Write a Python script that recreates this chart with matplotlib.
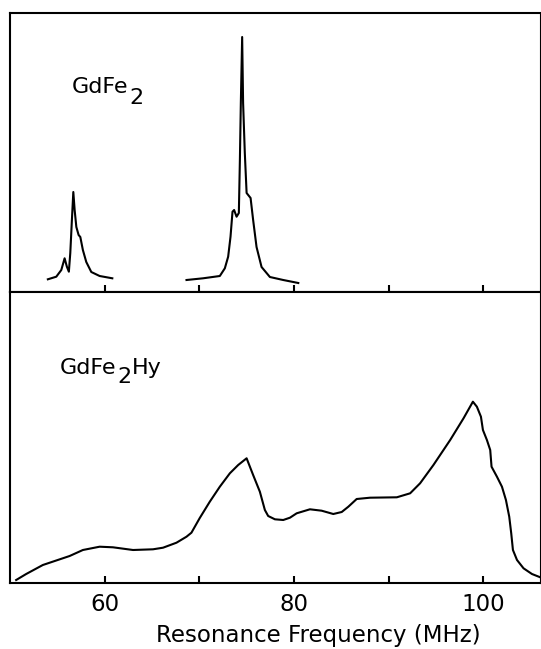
import matplotlib
matplotlib.use("Agg")
import matplotlib.pyplot as plt

# --- data (intensity in arbitrary units) ---
gd_peak1_freq = [54.0, 54.89, 55.42, 55.77, 56.01, 56.22, 56.37, 56.54, 56.69, 56.83,
                 57.01, 57.25, 57.43, 57.70, 58.06, 58.59, 59.47, 60.81]
gd_peak1_int = [12.7, 15.3, 22, 33.7, 25.3, 20.3, 39, 72, 100, 82,
                65, 57, 55, 42, 30, 20, 16, 13.7]

gd_peak2_freq = [68.65, 70.40, 72.17, 72.70, 73.05, 73.30, 73.51, 73.68, 73.94, 74.18,
                 74.29, 74.39, 74.53, 74.63, 74.81, 75.0, 75.42, 75.69, 76.05, 76.58,
                 77.46, 78.87, 80.46]
gd_peak2_int = [12, 13.7, 16, 23.7, 35.3, 55.3, 80.3, 82, 75.3, 79,
                132, 189, 255, 189, 139, 99, 94, 72, 45, 25,
                15, 12, 9]

hy_freq = [50.65, 51.71, 53.47, 56.30, 57.70, 59.47, 60.88, 63.0, 65.11, 66.17,
           67.59, 68.65, 69.17, 70.05, 71.11, 72.17, 73.23, 74.11, 75.0, 75.69,
           76.40, 76.93, 77.28, 77.99, 78.87, 79.58, 80.29, 81.69, 82.93, 84.16,
           85.05, 85.75, 86.63, 88.04, 90.87, 92.28, 93.33, 94.74, 96.51, 97.92,
           98.91, 99.33, 99.76, 99.97, 100.39, 100.74, 100.88, 101.45, 101.98, 102.40,
           102.75, 102.96, 103.14, 103.57, 104.26, 105.15, 106.03]
hy_int = [3, 9, 18, 27, 33, 36.3, 35.7, 33, 33.7, 35.3,
          40.3, 46.3, 50.3, 65, 81.3, 96.3, 109.7, 118, 124.7, 108,
          91.3, 73, 67, 63.7, 63, 65.3, 69.7, 73.7, 72.3, 69,
          71, 76.3, 84, 85.3, 85.7, 89.7, 99.7, 118, 143, 164.7,
          181.3, 176.3, 166.3, 153, 143, 133, 116.3, 106.3, 96.3, 83,
          66.3, 49.7, 33, 23, 14.7, 9, 5.7]

major_ticks = [60, 80, 100]
minor_ticks = [70, 90]
x_label = "Resonance Frequency (MHz)"
label_top = [("GdFe", 0), ("2", 1)]          # (text, is_subscript)
label_bottom = [("GdFe", 0), ("2", 1), ("Hy", 0)]

W, H = 541, 649
fig = plt.figure(figsize=(W / 100, H / 100), dpi=100)

left = 10 / W
width = 530 / W
ax_top = fig.add_axes([left, 1 - 292 / H, width, 279 / H])
ax_bot = fig.add_axes([left, 1 - 583 / H, width, 291 / H])

lw = 1.5
for ax in (ax_top, ax_bot):
    ax.set_xlim(50, 106)
    ax.set_yticks([])
    ax.set_xticks(major_ticks)
    ax.set_xticks(minor_ticks, minor=True)
    ax.tick_params(axis="x", which="both", direction="in", length=5, width=1.5,
                   top=False, bottom=True)
    for s in ax.spines.values():
        s.set_linewidth(1.5)
    ax.spines["right"].set_linewidth(0.8)

ax_top.set_ylim(0, 279)
ax_bot.set_ylim(0, 291)

ax_top.plot(gd_peak1_freq, gd_peak1_int, color="black", lw=lw, solid_joinstyle="round")
ax_top.plot(gd_peak2_freq, gd_peak2_int, color="black", lw=lw, solid_joinstyle="round")
ax_top.tick_params(axis="x", labelbottom=False)

ax_bot.plot(hy_freq, hy_int, color="black", lw=lw, solid_joinstyle="round")
ax_bot.tick_params(axis="x", which="major", labelsize=16.5, pad=7)

# x-axis title (placed in figure pixels)
fig.text(318 / W, 1 - 642 / H, x_label, fontsize=16.5, ha="center", va="baseline")

renderer = fig.canvas.get_renderer()


def chem_label(x_px, base_px, parts, size, sub_drop):
    x = x_px
    for s, is_sub in parts:
        dy = sub_drop if is_sub else 0
        t = fig.text(x / W, 1 - (base_px + dy) / H, s, fontsize=size,
                     ha="left", va="baseline")
        bb = t.get_window_extent(renderer)
        x = bb.x1 + 0.5


chem_label(72, 93, label_top, 16, 11)
chem_label(60, 374, label_bottom, 16, 9)

fig.savefig("out.png", dpi=100)
